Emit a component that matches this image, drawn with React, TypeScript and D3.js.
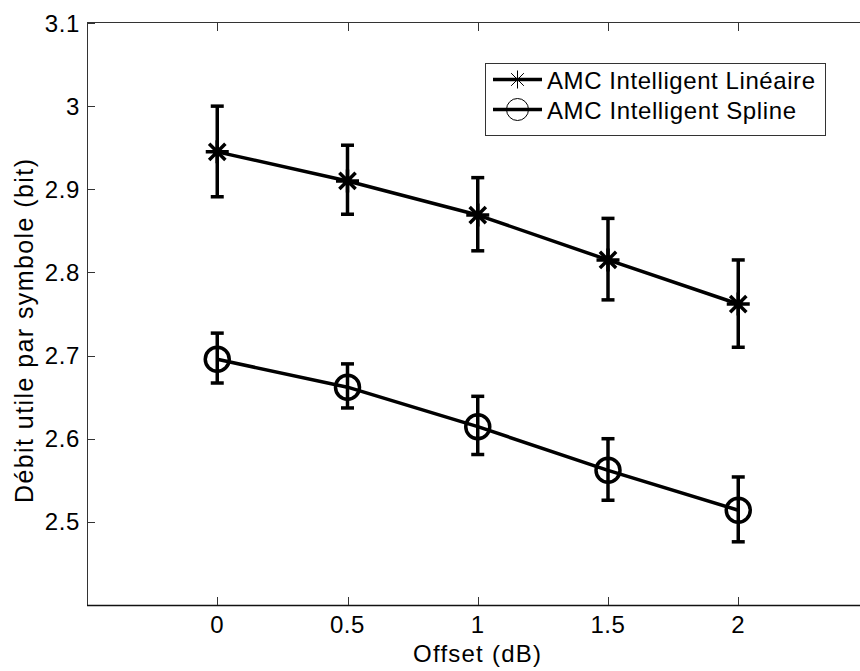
import React from "react";
import * as d3 from "d3";

const offsets = [0, 0.5, 1, 1.5, 2];
const linMean = [2.945, 2.91, 2.869, 2.815, 2.762];
const linLow = [2.891, 2.87, 2.826, 2.767, 2.71];
const linHigh = [3.0, 2.953, 2.914, 2.865, 2.815];
const splMean = [2.6955, 2.662, 2.6145, 2.562, 2.514];
const splLow = [2.667, 2.637, 2.581, 2.526, 2.476];
const splHigh = [2.727, 2.69, 2.651, 2.6, 2.554];
const xTicks = [0, 0.5, 1, 1.5, 2];
const yTicks = [2.5, 2.6, 2.7, 2.8, 2.9, 3.0, 3.1];
const seriesNames = ["AMC Intelligent Linéaire", "AMC Intelligent Spline"];
const legendTextLengths = [268, 249];

const W = 860, H = 671;
const FONT = "'Liberation Sans', Arial, sans-serif";

function starPath(cx: number, cy: number, r: number) {
  const d = r * 0.7071;
  return `M${cx - r},${cy}L${cx + r},${cy}M${cx},${cy - r}L${cx},${cy + r}` +
    `M${cx - d},${cy - d}L${cx + d},${cy + d}M${cx - d},${cy + d}L${cx + d},${cy - d}`;
}

export default function App() {
  const x = d3.scaleLinear().domain([-0.5, 2.5]).range([87, 868.5]);
  const y = d3.scaleLinear().domain([2.4, 3.1]).range([605, 23]);
  const line = d3.line<number>().x((_, i) => x(offsets[i])).y((v) => y(v));

  const series = [
    { mean: linMean, low: linLow, high: linHigh, marker: "star" },
    { mean: splMean, low: splLow, high: splHigh, marker: "circle" },
  ];

  return (
    <svg width={W} height={H} style={{ position: "absolute", left: 0, top: 0, background: "#fff" }}>
      <rect x={0} y={0} width={W} height={H} fill="#fff" />
      {/* axes */}
      <line x1={87.5} y1={23} x2={87.5} y2={605.5} stroke="#333" strokeWidth={1} />
      <line x1={87} y1={22.5} x2={870} y2={22.5} stroke="#333" strokeWidth={1} />
      <line x1={87} y1={605.5} x2={870} y2={605.5} stroke="#111" strokeWidth={1.3} />
      {/* y ticks */}
      {yTicks.map((t) => (
        <g key={"y" + t}>
          <line x1={87} x2={95} y1={Math.round(y(t)) + 0.5} y2={Math.round(y(t)) + 0.5} stroke="#333" />
          <text x={80} y={y(t) + 8.5} textAnchor="end" fontFamily={FONT} fontSize={24} letterSpacing={0.6} fill="#000">
            {d3.format("")(t)}
          </text>
        </g>
      ))}
      {/* x ticks */}
      {xTicks.map((t) => (
        <g key={"x" + t}>
          <line x1={Math.round(x(t)) + 0.5} x2={Math.round(x(t)) + 0.5} y1={605} y2={597} stroke="#333" />
          <line x1={Math.round(x(t)) + 0.5} x2={Math.round(x(t)) + 0.5} y1={23} y2={31} stroke="#333" />
          <text x={x(t)} y={633} textAnchor="middle" fontFamily={FONT} fontSize={24} letterSpacing={0.6} fill="#000">
            {String(t)}
          </text>
        </g>
      ))}
      <text x={413} y={662} textAnchor="start" fontFamily={FONT} fontSize={24} textLength={128} lengthAdjust="spacing" fill="#000">
        Offset (dB)
      </text>
      <text
        transform={`translate(33,331) rotate(-90)`}
        x={-172}
        textAnchor="start"
        fontFamily={FONT}
        fontSize={25}
        textLength={344}
        lengthAdjust="spacing"
        fill="#000"
      >
        Débit utile par symbole (bit)
      </text>
      {/* series */}
      {series.map((s, si) => (
        <g key={"s" + si}>
          <path d={line(s.mean) || ""} fill="none" stroke="#000" strokeWidth={3.5} strokeLinejoin="round" />
          {s.mean.map((v, i) => {
            const cx = x(offsets[i]);
            return (
              <g key={i}>
                <line x1={cx} x2={cx} y1={y(s.low[i])} y2={y(s.high[i])} stroke="#000" strokeWidth={3.5} />
                <line x1={cx - 6.5} x2={cx + 6.5} y1={y(s.low[i])} y2={y(s.low[i])} stroke="#000" strokeWidth={3.5} />
                <line x1={cx - 6.5} x2={cx + 6.5} y1={y(s.high[i])} y2={y(s.high[i])} stroke="#000" strokeWidth={3.5} />
                {s.marker === "star" ? (
                  <path d={starPath(cx, y(v), 11.5)} stroke="#000" strokeWidth={3.5} fill="none" />
                ) : (
                  <circle cx={cx} cy={y(v)} r={12} stroke="#000" strokeWidth={3.5} fill="none" />
                )}
              </g>
            );
          })}
        </g>
      ))}
      {/* legend */}
      <rect x={485.5} y={63.5} width={340} height={72} fill="#fff" stroke="#333" strokeWidth={1} />
      {seriesNames.map((name, i) => {
        const ly = 79.5 + i * 30;
        return (
          <g key={name}>
            <line x1={493} x2={542} y1={ly} y2={ly} stroke="#000" strokeWidth={3.5} />
            {i === 0 ? (
              <path d={starPath(517.5, ly, 9)} stroke="#000" strokeWidth={1} fill="none" />
            ) : (
              <circle cx={517.5} cy={ly} r={11} stroke="#000" strokeWidth={1} fill="none" />
            )}
            <text x={547} y={ly + 9} fontFamily={FONT} fontSize={24} textLength={legendTextLengths[i]} lengthAdjust="spacing" fill="#000">
              {name}
            </text>
          </g>
        );
      })}
    </svg>
  );
}
